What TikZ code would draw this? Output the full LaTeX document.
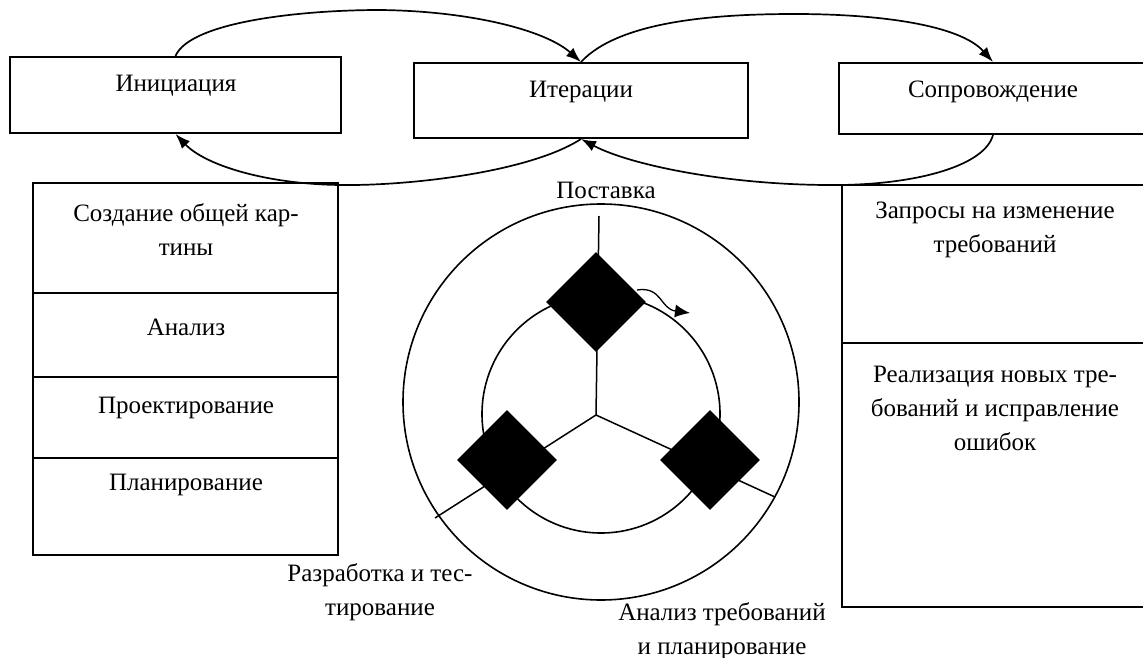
\documentclass[tikz,border=0pt]{standalone}
\usepackage{fontspec}
\setmainfont{Liberation Serif}
\usetikzlibrary{arrows.meta,shapes.geometric}
\begin{document}
\begin{tikzpicture}[x=1pt,y=-1pt,
  box/.style={draw,line width=2pt,inner sep=0pt},
  txt/.style={font=\fontsize{25}{34}\selectfont,align=center,inner sep=0pt},
  arc/.style={line width=1.7pt,-{Latex[length=15pt,width=11pt]}},
  ring/.style={draw,circle,line width=1.6pt,inner sep=0pt},
  spoke/.style={line width=1.5pt},
  gem/.style={diamond,fill=black,inner sep=0pt,minimum width=100pt,minimum height=100pt}]
\useasboundingbox (0,0) rectangle (1143,658);
% top boxes
\node[box,minimum width=331pt,minimum height=76pt] (ini) at (175.5,95) {};
\node[box,minimum width=334pt,minimum height=75pt] (iter) at (581,100.5) {};
\node[box,minimum width=308pt,minimum height=71pt] (sopr) at (993,98.5) {};
\node[txt] (iniT) at (176,86) {Инициация};
\node[txt] (iterT) at (581,92) {Итерации};
\node[txt] (soprT) at (993,92) {Сопровождение};
% arcs
\draw[arc] (ini.north) .. controls (190,22) and (300,10) .. (380,10) .. controls (470,11) and (545,30) .. (iter.north);
\draw[arc] (iter.north) .. controls (620,20) and (720,14) .. (795,14) .. controls (880,14) and (960,25) .. (sopr.north);
\draw[arc] (iter.south) .. controls (530,172) and (410,186) .. (340,185) .. controls (265,184) and (205,165) .. (ini.south);
\draw[arc] (sopr.south) .. controls (985,165) and (920,184) .. (840,185) .. controls (730,186) and (630,165) .. (iter.south);
% left column
\node[box,minimum width=305pt,minimum height=110pt] (L1) at (185.5,238) {};
\node[box,minimum width=305pt,minimum height=84pt] (L2) at (185.5,335) {};
\node[box,minimum width=305pt,minimum height=81pt] (L3) at (185.5,417.5) {};
\node[box,minimum width=305pt,minimum height=97pt] (L4) at (185.5,506.5) {};
\node[txt] (L1T) at (186,230) {Создание общей кар-\\тины};
\node[txt] (L2T) at (186,327) {Анализ};
\node[txt] (L3T) at (186,408) {Проектирование};
\node[txt] (L4T) at (186,485) {Планирование};
% right column
\node[box,minimum width=305pt,minimum height=158pt] (R1) at (994.5,264) {};
\node[box,minimum width=305pt,minimum height=264pt] (R2) at (994.5,475) {};
\node[txt] (R1T) at (995,230) {Запросы на изменение\\требований};
\node[txt] (R2T) at (995,408) {Реализация новых тре-\\бований и исправление\\ошибок};
% cycle
\node[ring,minimum size=396pt] (outer) at (601,402) {};
\node[ring,minimum size=238pt] (inner) at (601,414) {};
\coordinate (hub) at (596,415);
\coordinate (sTop) at (599,216);
\coordinate (sBL) at (435,518);
\coordinate (sBR) at (775,497);
\draw[spoke] (hub) -- (sTop);
\draw[spoke] (hub) -- (sBL);
\draw[spoke] (hub) -- (sBR);
\node[gem] (dTop) at (596,302) {};
\node[gem] (dBL) at (507,460) {};
\node[gem] (dBR) at (710,460) {};
\coordinate (aS) at (637,290);
\coordinate (aE) at (690,313);
\draw[line width=1.3pt,-{Latex[length=15pt,width=13pt]}] (aS) .. controls (662,286) and (660,309) .. (aE);
% labels
\node[txt] (lPost) at (606,190) {Поставка};
\node[txt] (lDev) at (380,592) {Разработка и тес-\\тирование};
\node[txt] (lReq) at (722,631) {Анализ требований\\и планирование};
\end{tikzpicture}
\end{document}
